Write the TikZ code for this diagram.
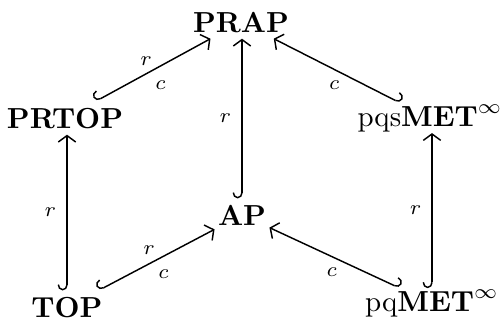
\documentclass[tikz,border=0pt]{standalone}
\usetikzlibrary{arrows.meta}
\begin{document}
\begin{tikzpicture}[x=0.345pt,y=-0.345pt,
  obj/.style={inner xsep=1pt, inner ysep=2pt, anchor=base, font=\bfseries},
  objm/.style={inner xsep=1pt, inner ysep=0.3pt, anchor=base},
  incl/.style={line width=0.5pt, {Hooks[right,arc=180,length=2pt,width=6.5pt]}-{Straight Barb[length=2.2pt,width=6pt]}},
  incr/.style={line width=0.5pt, {Hooks[left,arc=180,length=2pt,width=6.5pt]}-{Straight Barb[length=2.2pt,width=6pt]}},
  lab/.style={font=\scriptsize, inner sep=1.5pt}]
\useasboundingbox (0,0) rectangle (504,322);
\node[obj]  (prap)   at (241,32)  {PRAP};
\node[obj]  (prtop)  at (65,128)  {PRTOP};
\node[objm] (pqsmet) at (430,126) {pqs$\mathbf{MET}^\infty$};
\node[obj]  (ap)     at (242,225) {AP};
\node[obj]  (top)    at (67,317)  {TOP};
\node[objm] (pqmet)  at (432,311) {pq$\mathbf{MET}^\infty$};

\draw[incl] (prtop) -- (prap)
  node[lab, midway, above=0pt, xshift=-2.4pt] {$r$}
  node[lab, midway, below=1.8pt, xshift=2.6pt] {$c$};
\draw[incl] (ap.north) -- (ap.north |- prap.south) node[lab, midway, left=2pt] {$r$};
\draw[incr] (pqsmet) -- (prap) node[lab, midway, below=1.8pt, xshift=-1pt] {$c$};
\draw[incl] (top.north) -- (top.north |- prtop.south) node[lab, midway, left=2pt] {$r$};
\draw[incl] (top) -- (ap)
  node[lab, midway, above=0pt, xshift=-2.6pt] {$r$}
  node[lab, midway, below=1.5pt, xshift=2.4pt] {$c$};
\draw[incr] (pqmet) -- (ap) node[lab, midway, below=1.8pt, xshift=-1pt] {$c$};
\draw[incl] (pqmet.north) -- (pqmet.north |- pqsmet.south) node[lab, midway, left=2pt] {$r$};
\end{tikzpicture}
\end{document}
